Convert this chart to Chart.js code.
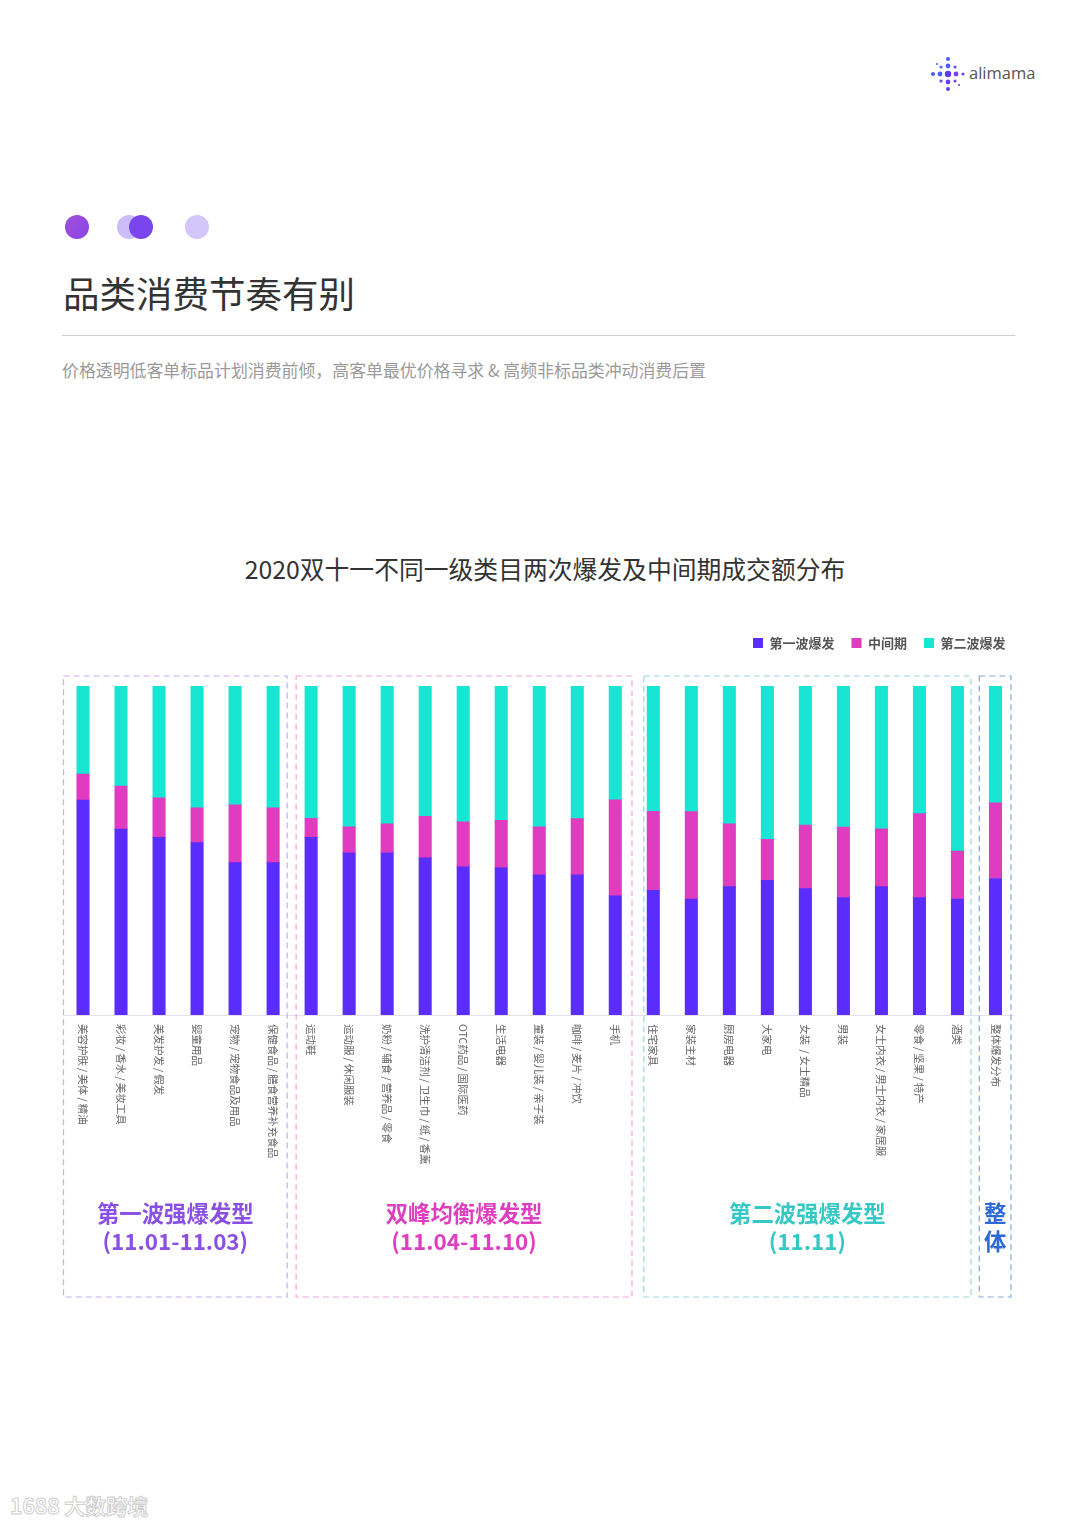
<!DOCTYPE html>
<html>
<head>
<meta charset="utf-8">
<script src="https://cdn.jsdelivr.net/npm/chart.js@4.4.1/dist/chart.umd.min.js"></script>
<style>
  body { margin: 0; width: 1080px; height: 1526px; background: #fff; position: relative; overflow: hidden;
         font-family: "Noto Sans CJK SC", "Noto Sans", sans-serif; }
  .abs { position: absolute; white-space: nowrap; }
  .dot { position: absolute; border-radius: 50%; width: 24px; height: 24px; }
  #heading { left: 63px; top: 268px; font-size: 36.5px; color: #333; line-height: 50px; }
  #rule { left: 62px; top: 335px; width: 953px; height: 1px; background: #cfcfcf; }
  #sub { left: 62px; top: 358px; font-size: 16.9px; color: #9a9a9a; line-height: 24px; }
  #ctitle { left: 0; width: 1090px; top: 550px; text-align: center; font-size: 24.8px; color: #333; line-height: 36px; }
  #logo { left: 928px; top: 56px; }
  #logoText { left: 969px; top: 61px; font-family: "Open Sans", sans-serif; font-size: 16.5px; color: #555; }
  #mark { left: 10px; top: 1490px; font-size: 21px; color: #fff; -webkit-text-stroke: 1px #cfcfcf; font-weight: bold; }
  #chartBox { position: absolute; left: 0; top: 600px; width: 1080px; height: 720px; }
</style>
</head>
<body>
<svg id="logo" class="abs" width="40" height="38" viewBox="0 0 40 38">
  <circle cx="20" cy="18" r="3.2" fill="#5b3cf0"/>
  <circle cx="20" cy="10" r="2.4" fill="#4a5cff"/>
  <circle cx="20" cy="3" r="2" fill="#4a5cff"/>
  <circle cx="20" cy="26" r="2.4" fill="#6a3ff0"/>
  <circle cx="20" cy="33" r="2" fill="#6a3ff0"/>
  <circle cx="12" cy="18" r="2.4" fill="#4a5cff"/>
  <circle cx="5" cy="18" r="2" fill="#4a5cff"/>
  <circle cx="28" cy="18" r="2.4" fill="#7a3ff0"/>
  <circle cx="35" cy="18" r="1.6" fill="#7a3ff0"/>
  <circle cx="13" cy="11" r="1.6" fill="#4a6cff"/>
  <circle cx="27" cy="11" r="1.6" fill="#6a4cf5"/>
  <circle cx="13" cy="25" r="1.6" fill="#5a4cf5"/>
  <circle cx="27" cy="25" r="1.6" fill="#7a3ff0"/>
  <circle cx="9" cy="8" r="1.1" fill="#4a6cff"/>
  <circle cx="31" cy="29" r="1.1" fill="#7a3ff0"/>
</svg>
<div id="logoText" class="abs">alimama</div>

<div class="dot" style="left:65px;top:215px;background:linear-gradient(135deg,#a24fd8,#8a45e6)"></div>
<div class="dot" style="left:117px;top:215px;background:#cbbdf8"></div>
<div class="dot" style="left:129px;top:215px;background:#7a45ec"></div>
<div class="dot" style="left:185px;top:215px;background:#d2c6fa"></div>

<div id="heading" class="abs">品类消费节奏有别</div>
<div id="rule" class="abs"></div>
<div id="sub" class="abs">价格透明低客单标品计划消费前倾，高客单最优价格寻求 &amp; 高频非标品类冲动消费后置</div>
<div id="ctitle" class="abs">2020双十一不同一级类目两次爆发及中间期成交额分布</div>

<div id="chartBox"><canvas id="chart" width="1080" height="720"></canvas></div>
<div id="mark" class="abs">1688 大数跨境</div>

<script>
// categories, left to right
const categories = [
  '美容护肤 / 美体 / 精油', '彩妆 / 香水 / 美妆工具', '美发护发 / 假发', '婴童用品', '宠物 / 宠物食品及用品', '保健食品 / 膳食营养补充食品',
  '运动鞋', '运动服 / 休闲服装', '奶粉 / 辅食 / 营养品 / 零食', '洗护清洁剂 / 卫生巾 / 纸 / 香薰', 'OTC药品 / 国际医药', '生活电器',
  '童装 / 婴儿装 / 亲子装', '咖啡 / 麦片 / 冲饮', '手机',
  '住宅家具', '家装主材', '厨房电器', '大家电', '女装  / 女士精品', '男装', '女士内衣 / 男士内衣 / 家居服', '零食 / 坚果 / 特产', '酒类',
  '整体爆发分布'
];

// share of GMV, %
const firstWave  = [65.3, 56.5, 54.0, 52.4, 46.3, 46.3,
                    54.0, 49.3, 49.3, 47.8, 45.0, 44.7, 42.6, 42.6, 36.2,
                    37.9, 35.2, 39.0, 40.9, 38.4, 35.7, 39.0, 35.7, 35.2,
                    41.5];
const midPeriod  = [7.9, 13.1, 12.0, 10.6, 17.6, 16.7,
                    5.8, 7.9, 8.8, 12.6, 13.7, 14.5, 14.6, 17.1, 29.2,
                    24.0, 26.6, 19.1, 12.5, 19.3, 21.4, 17.6, 25.5, 14.6,
                    23.0];
const secondWave = [26.8, 30.4, 34.0, 37.0, 36.1, 37.0,
                    40.2, 42.8, 41.9, 39.6, 41.3, 40.8, 42.8, 40.3, 34.6,
                    38.1, 38.2, 41.9, 46.6, 42.3, 42.9, 43.4, 38.8, 50.2,
                    35.5];

const seriesNames = ['第一波爆发', '中间期', '第二波爆发'];

// category groups
const groupNames = ['第一波强爆发型', '双峰均衡爆发型', '第二波强爆发型', '整体'];
const groupDates = ['(11.01-11.03)', '(11.04-11.10)', '(11.11)', ''];
const groupSizes = [6, 9, 9, 1];

// styles
const barColors = ['#5a2dfd', '#df3cbf', '#19e6d2'];
const groupText = ['#8a50e4', '#de3ec0', '#36c8c4', '#2d6ad6'];
const groupLine = ['#c3acf4', '#f0a6dd', '#98d9de', '#86a9da'];
const boxPad = [[19.5, 14], [15, 16.7], [9.5, 13.5], [16.2, 15.5]];

// more room under the legend, and nudge it right a little
const legendSpacer = {
  id: 'legendSpacer',
  beforeInit(chart) {
    const legend = chart.legend;
    const fit = legend.fit, draw = legend.draw;
    legend.fit = function () { fit.call(this); this.height += 26.5; };
    legend.draw = function () {
      const ctx = this.ctx;
      ctx.save();
      ctx.translate(8, 0);
      draw.call(this);
      ctx.restore();
    };
  }
};

const groupsAndLabels = {
  id: 'groupsAndLabels',
  afterDraw(chart) {
    const ctx = chart.ctx, area = chart.chartArea, x = chart.scales.x;
    ctx.save();
    // baseline
    ctx.strokeStyle = '#e4e0ee';
    ctx.lineWidth = 1;
    ctx.beginPath();
    ctx.moveTo(area.left, area.bottom + 0.5);
    ctx.lineTo(area.right, area.bottom + 0.5);
    ctx.stroke();

    // vertical category labels, reading top to bottom
    ctx.fillStyle = '#666';
    ctx.font = '10.5px "Noto Sans CJK SC", sans-serif';
    ctx.textAlign = 'left';
    ctx.textBaseline = 'middle';
    categories.forEach((c, i) => {
      ctx.save();
      ctx.translate(x.getPixelForValue(i), area.bottom + 9);
      ctx.rotate(Math.PI / 2);
      ctx.fillText(c.replace(/ \/ /g, '\u2009/\u2009'), 0, 0);
      ctx.restore();
    });

    // dashed group boxes with their names
    let start = 0;
    const top = area.top - 10, bottom = 697;
    groupSizes.forEach((n, g) => {
      const l = x.getPixelForValue(start) - boxPad[g][0];
      const r = x.getPixelForValue(start + n - 1) + boxPad[g][1];
      ctx.setLineDash([6, 4]);
      ctx.strokeStyle = groupLine[g];
      ctx.lineWidth = 1.2;
      ctx.strokeRect(l, top, r - l, bottom - top);
      ctx.setLineDash([]);
      ctx.fillStyle = groupText[g];
      ctx.font = 'bold 22.4px "Noto Sans CJK SC", sans-serif';
      ctx.textAlign = 'center';
      const cx = (l + r) / 2;
      if (groupDates[g]) {
        ctx.fillText(groupNames[g], cx, 613);
        ctx.fillText(groupDates[g], cx, 641);
      } else {
        [...groupNames[g]].forEach((ch, k) => ctx.fillText(ch, cx, 613 + k * 28));
      }
      start += n;
    });
    ctx.restore();
  }
};

new Chart(document.getElementById('chart'), {
  type: 'bar',
  data: {
    labels: categories,
    datasets: [
      { label: seriesNames[0], data: firstWave, backgroundColor: barColors[0] },
      { label: seriesNames[1], data: midPeriod, backgroundColor: barColors[1] },
      { label: seriesNames[2], data: secondWave, backgroundColor: barColors[2] }
    ]
  },
  options: {
    responsive: false,
    animation: false,
    layout: { padding: { top: 19.5, left: 64, right: 65.5, bottom: 305 } },
    datasets: { bar: { barThickness: 12.4 } },
    scales: {
      x: { stacked: true, display: false },
      y: { stacked: true, display: false, min: 0, max: 100 }
    },
    plugins: {
      tooltip: { enabled: false },
      legend: {
        position: 'top',
        align: 'end',
        labels: {
          boxWidth: 10,
          boxHeight: 10,
          padding: 17,
          color: '#555',
          font: { size: 13, weight: 'bold', family: '"Noto Sans CJK SC", sans-serif' }
        }
      }
    }
  },
  plugins: [legendSpacer, groupsAndLabels]
});
</script>
</body>
</html>
